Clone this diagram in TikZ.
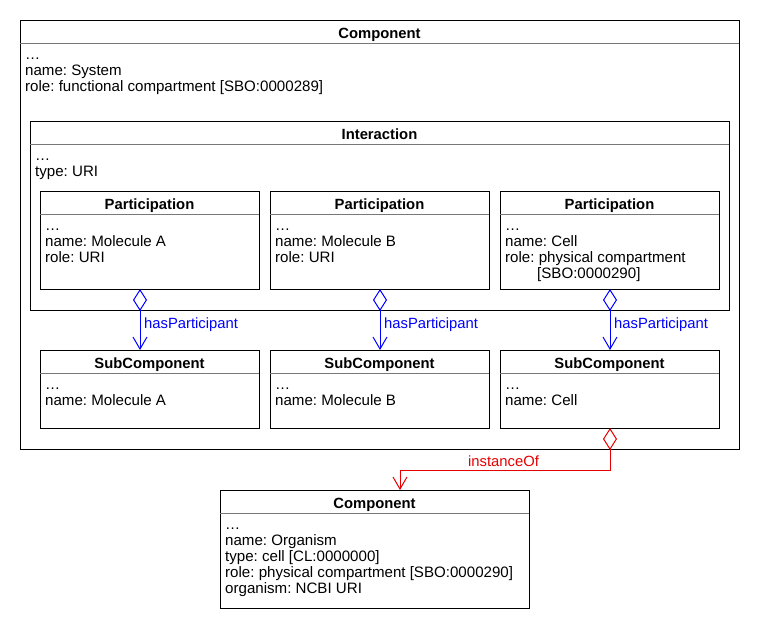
\documentclass[tikz,border=0pt]{standalone}
\usepackage{fontspec}
\setmainfont{Liberation Sans}
\usetikzlibrary{arrows.meta,calc}
\frenchspacing
\definecolor{relblue}{RGB}{0,0,255}
\definecolor{relred}{RGB}{230,0,0}
\definecolor{sepgray}{RGB}{120,120,120}
\tikzset{
  classbox/.style={draw=black, line width=1pt, rectangle, inner sep=0pt, outer sep=0pt, anchor=north west},
  titletext/.style={font=\fontsize{14.8}{16}\selectfont\bfseries, anchor=base, inner sep=0pt},
  bodytext/.style={font=\fontsize{15.1}{16}\selectfont, anchor=base west, inner sep=0pt},
  sepline/.style={draw=sepgray, line width=1pt},
  hasrel/.style={draw=relblue, line width=1pt, {Diamond[open,length=22pt,width=14pt]}-{Straight Barb[length=12pt,width=14pt]}},
  instrel/.style={draw=relred, line width=1pt, {Diamond[open,length=22pt,width=14pt]}-{Straight Barb[length=12pt,width=14pt]}},
  haslabel/.style={font=\fontsize{14.8}{16}\selectfont, text=relblue, anchor=west, inner sep=0pt},
  instlabel/.style={font=\fontsize{14.8}{16}\selectfont, text=relred, anchor=base west, inner sep=0pt},
}
\newcommand\umlclass[7]{%
  \node[classbox, minimum width=#4pt, minimum height=#5pt] (#1) at (#2,#3) {};
  \node[titletext] (#1-title) at ($(#1.north)+(0,18.5)$) {#6};
  \draw[sepline] ($(#1.north west)+(0,23)$) -- ($(#1.north east)+(0,23)$);
  \foreach \t [count=\k] in {#7} {
    \node[bodytext] (#1-l\k) at ($(#1.north west)+(5,{23+16*\k})$) {\t};
  }%
}
\begin{document}
\begin{tikzpicture}[x=1pt,y=-1pt]
\fill[white] (0,0) rectangle (760,630);
\useasboundingbox (0,0) rectangle (760,630);

\umlclass{comp}{20}{20}{719}{429}{Component}{…,name: System,role: functional compartment [SBO:0000289]}
\umlclass{inter}{30}{121}{699}{189}{Interaction}{…,type: URI}
\umlclass{p1}{40}{191}{219}{98}{Participation}{…,name: Molecule A,role: URI}
\umlclass{p2}{270}{191}{219}{98}{Participation}{…,name: Molecule B,role: URI}
\umlclass{p3}{500}{191}{219}{98}{Participation}{…,name: Cell,role: physical compartment}
\node[bodytext] (p3-l4) at ($(p3.north west)+(37,87)$) {[SBO:0000290]};
\umlclass{s1}{40}{350}{219}{78}{SubComponent}{…,name: Molecule A}
\umlclass{s2}{270}{350}{219}{78}{SubComponent}{…,name: Molecule B}
\umlclass{s3}{500}{350}{219}{78}{SubComponent}{…,name: Cell}
\umlclass{org}{220}{490}{309}{118}{Component}{…,name: Organism,type: cell [CL:0000000],role: physical compartment [SBO:0000290],organism: NCBI URI}

% hasParticipant connectors
\coordinate (h1a) at ($(p1.south west)+(100,0)$);
\coordinate (h1b) at ($(s1.north west)+(100,0)$);
\coordinate (h2a) at ($(p2.south west)+(110,0)$);
\coordinate (h2b) at ($(s2.north west)+(110,0)$);
\coordinate (h3a) at ($(p3.south west)+(110,0)$);
\coordinate (h3b) at ($(s3.north west)+(110,0)$);
\draw[hasrel] (h1a) -- (h1b);
\draw[hasrel] (h2a) -- (h2b);
\draw[hasrel] (h3a) -- (h3b);
\node[haslabel] (lab1) at ($(h1a)+(4,36)$) {hasParticipant};
\node[haslabel] (lab2) at ($(h2a)+(4,36)$) {hasParticipant};
\node[haslabel] (lab3) at ($(h3a)+(4,36)$) {hasParticipant};

% instanceOf connector
\coordinate (i1) at ($(s3.south west)+(110,0)$);
\coordinate (i2) at ($(org.north west)+(180,0)$);
\coordinate (ibend) at ($(i1)+(0,42)$);
\draw[instrel] (i1) -- (ibend) -| (i2);
\node[instlabel] (ilab) at ($(i2)+(68,-24)$) {instanceOf};
\end{tikzpicture}
\end{document}
